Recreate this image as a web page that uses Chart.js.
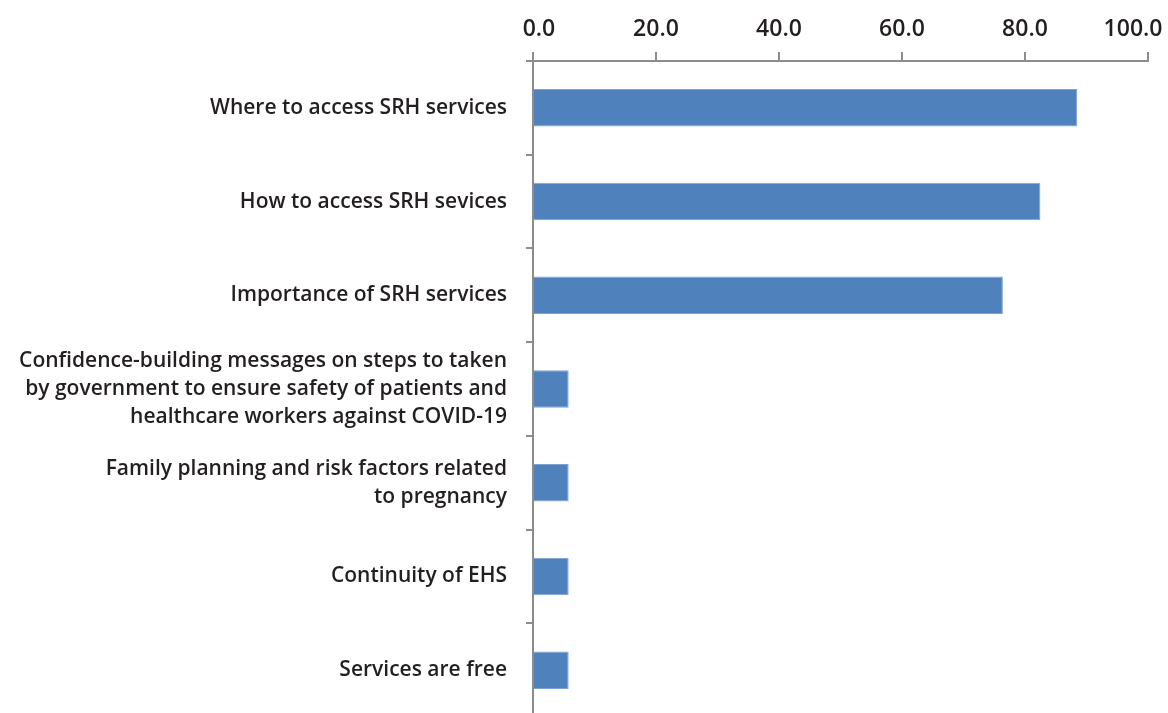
<!DOCTYPE html>
<html>
<head>
<meta charset="utf-8">
<script src="https://cdn.jsdelivr.net/npm/chart.js@4/dist/chart.umd.min.js"></script>
<style>
  html, body { margin: 0; padding: 0; background: #fff; overflow: hidden; }
  #wrap { width: 1168px; height: 713px; overflow: hidden; }
</style>
</head>
<body>
<div id="wrap"><canvas id="topics" width="1168" height="717"></canvas></div>
<script>
// categories and values (percent of respondents)
const topicLabels = [
    "Where to access SRH services",
    "How to access SRH sevices",
    "Importance of SRH services",
    ["Confidence-building messages on steps to taken", "by government to ensure safety of patients and", "healthcare workers against COVID-19"],
    ["Family planning and risk factors related", "to pregnancy"],
    "Continuity of EHS",
    "Services are free"
];
const topicValues = [88.5, 82.5, 76.4, 5.8, 5.8, 5.8, 5.8];
const xTicks = [0, 20, 40, 60, 80, 100];

const axisGrey = "#8c8c8c";
const textColor = "#231f20";

// end labels sit a little inside the axis ends, like the original
function xLabel(v) {
    const s = Number(v).toFixed(1);
    if (v === xTicks[0]) return "  " + s;
    if (v === xTicks[xTicks.length - 1]) return s + "     ";
    return s;
}

new Chart(document.getElementById("topics"), {
    type: "bar",
    data: {
        labels: topicLabels,
        datasets: [{
            data: topicValues,
            backgroundColor: "#4f81bd",
            borderColor: "#7ba2d2",
            borderWidth: 1,
            barPercentage: 0.4,
            categoryPercentage: 1.0
        }]
    },
    options: {
        indexAxis: "y",
        responsive: false,
        animation: false,
        layout: { padding: { left: 0, top: 0, bottom: 0, right: 20 } },
        plugins: { legend: { display: false }, tooltip: { enabled: false } },
        scales: {
            x: {
                position: "top",
                min: 0,
                max: 100,
                afterBuildTicks: (s) => { s.ticks = xTicks.map(v => ({ value: v })); },
                afterFit: (s) => { s.height = 61; s.paddingLeft = 0; s.paddingRight = 0; },
                ticks: {
                    callback: xLabel,
                    color: textColor,
                    font: { family: "'Open Sans'", size: 23, weight: 600 },
                    padding: 9,
                    maxRotation: 0
                },
                grid: { drawOnChartArea: false, color: axisGrey, lineWidth: 2, tickLength: 9 },
                border: { color: axisGrey, width: 2 }
            },
            y: {
                afterFit: (s) => { s.width = 533; s.paddingTop = 0; s.paddingBottom = 0; },
                ticks: {
                    color: textColor,
                    font: { family: "'Open Sans'", size: 21, weight: 600, lineHeight: 1.35 },
                    padding: 19
                },
                grid: { offset: true, drawOnChartArea: false, color: axisGrey, lineWidth: 2, tickLength: 7 },
                border: { color: axisGrey, width: 2 }
            }
        }
    }
});
</script>
</body>
</html>
